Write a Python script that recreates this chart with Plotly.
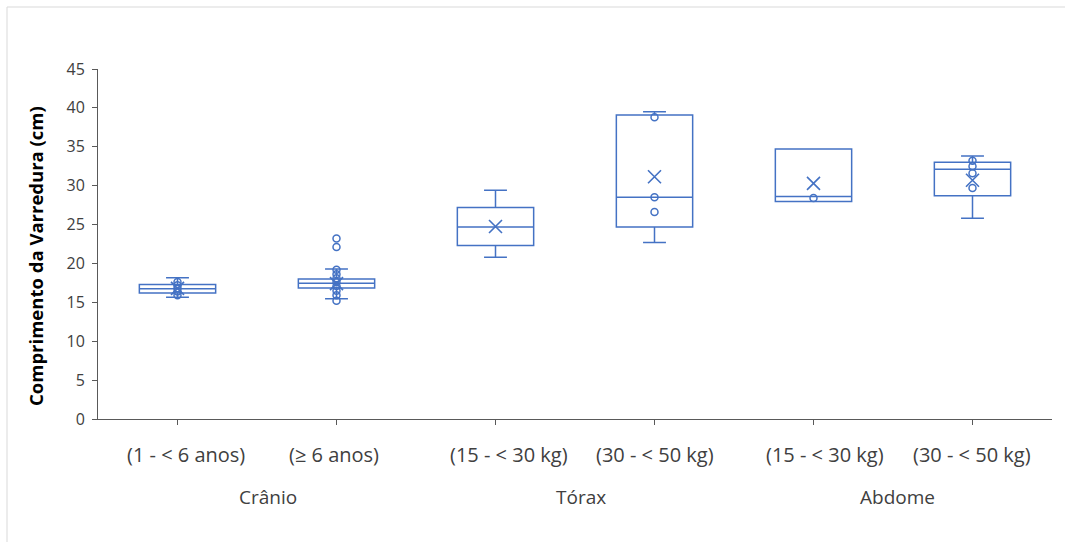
import plotly.graph_objects as go

# Categories (second level) and their groups (first level)
categories = ["(1 - < 6 anos)", "(≥ 6 anos)", "(15 - < 30 kg)",
              "(30 - < 50 kg)", "(15 - < 30 kg)", "(30 - < 50 kg)"]
groups = ["Crânio", "Tórax", "Abdome"]
group_span = [(0, 1), (2, 3), (4, 5)]

# Box statistics (cm)
q1 = [16.2, 16.85, 22.3, 24.7, 27.95, 28.7]
median = [16.75, 17.45, 24.7, 28.5, 28.6, 32.1]
q3 = [17.3, 18.0, 27.2, 39.1, 34.7, 33.0]
lower = [15.65, 15.45, 20.8, 22.7, 27.95, 25.8]
upper = [18.15, 19.3, 29.4, 39.5, 34.7, 33.8]
means = [16.8, 17.4, 24.75, 31.15, 30.3, 30.7]

# Individual data points drawn as open circles
points = [
    [17.6, 17.2, 16.8, 16.4, 15.9],
    [23.2, 22.1, 19.2, 18.6, 18.1, 17.6, 17.1, 16.5, 15.9, 15.2],
    [],
    [38.8, 28.5, 26.6],
    [28.4],
    [33.2, 32.5, 31.6, 29.7],
]

y_ticks = [0, 5, 10, 15, 20, 25, 30, 35, 40, 45]

# Pixel nudges for the category / group labels
label_shift = [8, -3, 13, 0, 11, -1]
group_shift = [11, 6, 4]

BLUE = "#4472C4"
FONT = "Open Sans, sans-serif"
TEXT = "#404040"

W, H = 1065, 542
L, R, T, B = 98, 13, 69, 123
pw, ph = W - L - R, H - T - B

fig = go.Figure()

xs = list(range(len(categories)))
fig.add_trace(go.Box(
    x=xs, q1=q1, median=median, q3=q3,
    lowerfence=lower, upperfence=upper,
    boxpoints=False, width=0.48, whiskerwidth=0.3,
    fillcolor="rgba(0,0,0,0)",
    line=dict(color=BLUE, width=1.5),
    showlegend=False, hoverinfo="skip",
))

px, py = [], []
for i, vals in enumerate(points):
    px += [i] * len(vals)
    py += vals
fig.add_trace(go.Scatter(
    x=px, y=py, mode="markers", showlegend=False,
    marker=dict(symbol="circle-open", size=7, color=BLUE,
                line=dict(color=BLUE, width=1.5)),
))

fig.add_trace(go.Scatter(
    x=xs, y=means, mode="markers", showlegend=False,
    marker=dict(symbol="x-thin", size=13, color=BLUE,
                line=dict(color=BLUE, width=1.6)),
))

annotations = []
# Category labels
for i, (name, dx) in enumerate(zip(categories, label_shift)):
    annotations.append(dict(
        x=i, y=(419 - 455) / ph, xref="x", yref="paper", xshift=dx,
        text=name, showarrow=False, xanchor="center", yanchor="middle",
        font=dict(family=FONT, size=20, color=TEXT),
    ))
# Group labels under the category labels
for name, (a, b), dx in zip(groups, group_span, group_shift):
    annotations.append(dict(
        x=(a + b) / 2, y=(419 - 497) / ph, xref="x", yref="paper", xshift=dx,
        text=name, showarrow=False, xanchor="center", yanchor="middle",
        font=dict(family=FONT, size=19, color=TEXT),
    ))

annotations.append(dict(
    x=(35 - L) / pw, y=(419 - 256) / ph, xref="paper", yref="paper",
    text="<b>Comprimento da Varredura (cm)</b>", textangle=-90,
    showarrow=False, xanchor="center", yanchor="middle",
    font=dict(family=FONT, size=18.5, color="#000000"),
))

fig.update_layout(
    width=W, height=H,
    margin=dict(l=L, r=R, t=T, b=B, autoexpand=False),
    paper_bgcolor="white", plot_bgcolor="white",
    annotations=annotations,
    shapes=[dict(type="rect", xref="paper", yref="paper",
                 x0=(7 - L) / pw, x1=(1075 - L) / pw,
                 y0=(419 - 550) / ph, y1=(419 - 7) / ph,
                 line=dict(color="#d9d9d9", width=1), layer="below")],
)

fig.update_xaxes(
    range=[-0.5, 5.5], tickvals=xs, showticklabels=False,
    showline=True, linecolor="#595959", linewidth=1,
    ticks="outside", ticklen=5, tickcolor="#595959",
    showgrid=False, zeroline=False,
)
fig.update_yaxes(
    range=[0, 45], tickvals=y_ticks,
    showline=True, linecolor="#595959", linewidth=1,
    ticks="outside", ticklen=5, tickcolor="#595959",
    showgrid=False, zeroline=False, ticklabelstandoff=4,
    tickfont=dict(family=FONT, size=16, color=TEXT),
)

fig.write_html("out.html")
